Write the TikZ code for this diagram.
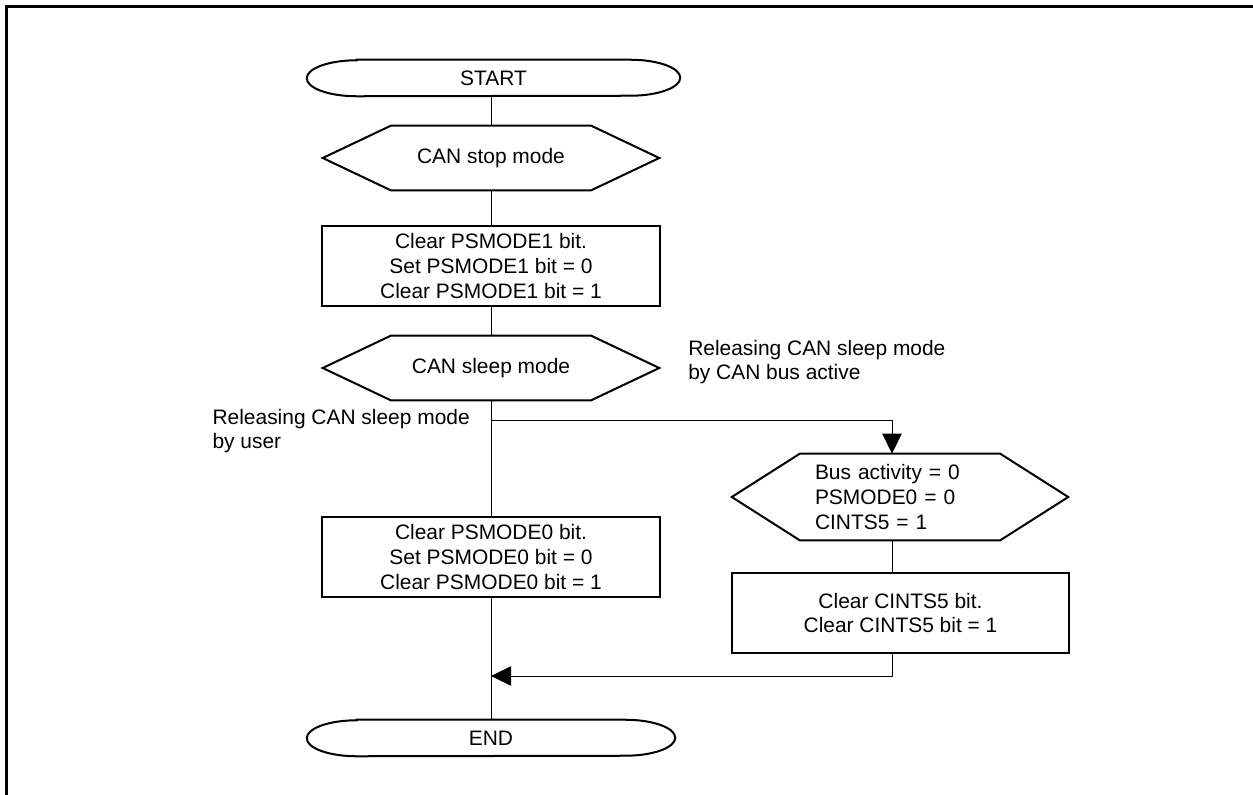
\documentclass[tikz,border=0pt]{standalone}
\usepackage{fontspec}
\setmainfont{Liberation Sans}
\usetikzlibrary{arrows.meta,calc}
\newcommand{\myfs}{\fontsize{15.7}{18.6}\selectfont}
\newcommand{\hexdraw}[1]{\draw[shapeline] (#1.west) -- ([xshift=51pt]#1.north west) -- ([xshift=-51pt]#1.north east) -- (#1.east) -- ([xshift=-51pt]#1.south east) -- ([xshift=51pt]#1.south west) -- cycle;}
\newcommand{\termdraw}[1]{\draw[shapeline] ([xshift=37.5pt]#1.north west) -- ([xshift=-37.5pt]#1.north east) arc[start angle=90,end angle=-90,x radius=37.5pt,y radius=13.5pt] -- ([xshift=37.5pt]#1.south west) arc[start angle=270,end angle=90,x radius=37.5pt,y radius=13.5pt] -- cycle;}
\begin{document}
\begin{tikzpicture}[x=0.75pt,y=-0.75pt,
  shapeline/.style={line width=1.5pt},
  conn/.style={line width=0.75pt},
  arr/.style={conn,-{Triangle[length=15pt,width=14.5pt]}},
  boxnode/.style={draw,line width=1.5pt,rectangle,align=center,inner sep=0pt,font=\myfs,minimum width=253pt,minimum height=60pt},
  hexnode/.style={rectangle,align=center,inner sep=0pt,font=\myfs,minimum width=252pt,minimum height=48pt},
  termnode/.style={rectangle,inner sep=0pt,font=\myfs,minimum height=27pt},
  lbl/.style={align=left,inner sep=0pt,font=\myfs}]
\useasboundingbox (0,0) rectangle (1253,795);
\draw[line width=2.25pt] (6.5,795) -- (6.5,6.5) -- (1253,6.5);

\node[termnode,minimum width=279.75pt] (start) at (493.5,78) {START};
\termdraw{start}
\node[hexnode] (stop) at (491,158) {CAN stop mode};
\hexdraw{stop}
\node[boxnode] (r1) at (491,266) {Clear PSMODE1 bit.\\Set PSMODE1 bit = 0\\Clear PSMODE1 bit = 1};
\node[hexnode] (sleep) at (491,368) {CAN sleep mode};
\hexdraw{sleep}
\node[boxnode] (r0) at (491,557) {Clear PSMODE0 bit.\\Set PSMODE0 bit = 0\\Clear PSMODE0 bit = 1};
\node[termnode,minimum width=276pt] (end) at (491,738) {END};
\termdraw{end}

\node[rectangle,align=left,font=\myfs,inner ysep=0pt,inner xsep=62.25pt,text width=127.5pt,minimum height=64.5pt] (bus) at (900,497) {Bus activity = 0\\PSMODE0 = 0\\CINTS5 = 1};
\hexdraw{bus}
\node[boxnode] (rc) at (900.5,613) {Clear CINTS5 bit.\\Clear CINTS5 bit = 1};

\node[lbl,anchor=west] (lright) at (688,362) {Releasing CAN sleep mode\\by CAN bus active};
\node[lbl,anchor=east] (lleft) at (470,431) {Releasing CAN sleep mode\\by user};

\coordinate (br) at (491,420);
\coordinate (bx) at (892,420);
\coordinate (rt) at (892,676);

\draw[conn] (stop.north |- start.south) -- (stop.north);
\draw[conn] (stop.south) -- (r1.north);
\draw[conn] (r1.south) -- (sleep.north);
\draw[conn] (sleep.south) -- (r0.north);
\draw[conn] (r0.south) -- (end.north);
\draw[arr] (br) -- (bx) -- (bx |- bus.north);
\draw[conn] (bx |- bus.south) -- (bx |- rc.north);
\draw[arr] (bx |- rc.south) -- (rt) -- (rt -| r0.south);
\end{tikzpicture}
\end{document}
